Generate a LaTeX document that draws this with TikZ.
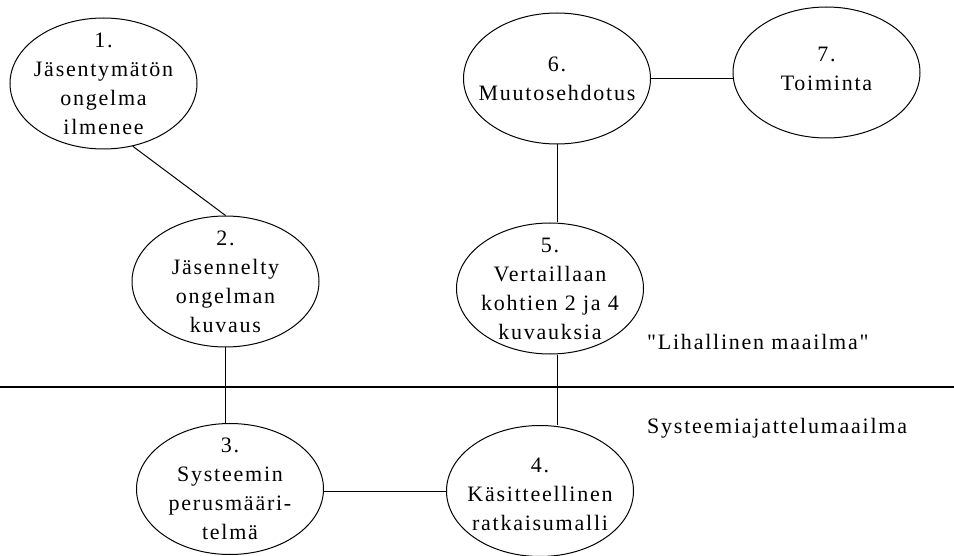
\documentclass[tikz,border=0pt]{standalone}
\usepackage{fontspec}
\newfontfamily\diagfont[LetterSpace=8]{Liberation Serif}
\usetikzlibrary{shapes.geometric}
\tikzset{
  ebox/.style={draw=black, line width=1pt, ellipse, minimum width=187pt, minimum height=131pt, inner sep=0pt},
  etext/.style={align=center, inner sep=0pt, font={\diagfont\fontsize{22}{29}\selectfont}},
  conn/.style={draw=black, line width=1pt},
  divider/.style={draw=black, line width=2.8pt},
  worldlabel/.style={anchor=west, inner sep=0pt, font={\diagfont\fontsize{22}{29}\selectfont}}
}
\begin{document}
\begin{tikzpicture}[x=1pt,y=-1pt]
\useasboundingbox[fill=white] (0,0) rectangle (954,556);
% ellipses
\node[ebox] (e1) at (103.5,83.5) {};
\node[ebox] (e2) at (225.5,281.5) {};
\node[ebox] (e5) at (550,288.5) {};
\node[ebox] (e6) at (557,78.5) {};
\node[ebox] (e7) at (826.5,72.5) {};
\node[ebox] (e3) at (230,489) {};
\node[ebox] (e4) at (540,491) {};
% texts
\node[etext] (t1) at (e1) {1.\\Jäsentymätön\\ongelma\\ilmenee};
\node[etext] (t2) at (e2) {2.\\Jäsennelty\\ongelman\\kuvaus};
\node[etext] (t5) at (e5) {5.\\Vertaillaan\\kohtien 2 ja 4\\kuvauksia};
\node[etext] (t6) at (e6) {6.\\Muutosehdotus};
\node[etext] (t7) at ([yshift=4pt]e7.center) {7.\\Toiminta};
\node[etext] (t3) at (e3) {3.\\Systeemin\\perusmääri-\\telmä};
\node[etext] (t4) at ([yshift=-3pt]e4.center) {4.\\Käsitteellinen\\ratkaisumalli};
% world labels
\node[worldlabel] (w1) at (647,342) {"Lihallinen maailma"};
\node[worldlabel] (w2) at (647,428) {Systeemiajattelumaailma};
% divider
\coordinate (dl) at (0,387);
\coordinate (dr) at (954,387);
\draw[divider] (dl) -- (dr);
% connectors
\draw[conn] (e1.-65) -- (e2.north);
\draw[conn] (e2.south) -- (e2.south |- e3.north);
\draw[conn] (e6.south) -- (e6.south |- e5.north);
\draw[conn] (e5.south -| e6.south) -- (e4.north -| e6.south);
\draw[conn] (e6.east) -- (e6.east -| e7.west);
\draw[conn] (e4.west -| e3.east) -- (e4.west);
\end{tikzpicture}
\end{document}
